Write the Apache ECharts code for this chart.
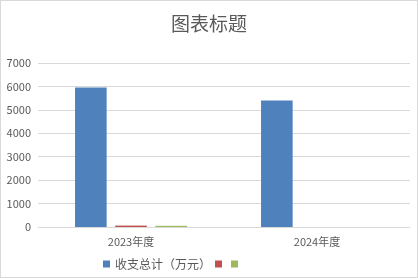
<!DOCTYPE html>
<html><head><meta charset="utf-8">
<script src="https://cdn.jsdelivr.net/npm/echarts@6/dist/echarts.min.js"></script>
<style>html,body{margin:0;padding:0;background:#fff}#c{width:416px;height:276px;border:1px solid #d9d9d9}</style>
</head><body><div id="c"></div>
<script>
const categories = ['2023年度', '2024年度'];
const seriesNames = ['收支总计（万元）', '\u200b', '\u200b\u200b'];
const totalValues = [5950, 5400];
const redValues = [60, 0];
const greenValues = [50, 0];
const yTicks = [0, 7000, 1000];

const chart = echarts.init(document.getElementById('c'));
const font = 'Noto Sans CJK SC';
chart.setOption({
  animation: false,
  title: {text: '图表标题', left: 'center', top: 8, textStyle: {fontFamily: font, fontSize: 19, fontWeight: 'normal', color: '#595959'}},
  grid: {left: 37, right: 7, top: 62, bottom: 50},
  legend: {bottom: 2, left: 97, itemWidth: 7, itemHeight: 7, itemGap: 4, icon: 'rect', data: seriesNames,
    textStyle: {fontFamily: font, fontSize: 12, color: '#595959'}},
  xAxis: {type: 'category', data: categories, axisLine: {lineStyle: {color: '#d9d9d9'}}, axisTick: {show: false},
    axisLabel: {fontFamily: font, fontSize: 11, color: '#595959', margin: 9}},
  yAxis: {type: 'value', min: yTicks[0], max: yTicks[1], interval: yTicks[2], axisLine: {show: false}, axisTick: {show: false},
    splitLine: {lineStyle: {color: '#d9d9d9'}}, axisLabel: {fontFamily: font, fontSize: 11, color: '#595959', margin: 7, formatter: v => String(v)}},
  series: [
    {name: seriesNames[0], type: 'bar', data: totalValues, itemStyle: {color: '#4f81bd'}, barWidth: '17%', barGap: '27%'},
    {name: seriesNames[1], type: 'bar', data: redValues, itemStyle: {color: '#c0504d'}, barWidth: '17%', barGap: '27%'},
    {name: seriesNames[2], type: 'bar', data: greenValues, itemStyle: {color: '#9bbb59'}, barWidth: '17%', barGap: '27%'}
  ]
});
</script></body></html>
